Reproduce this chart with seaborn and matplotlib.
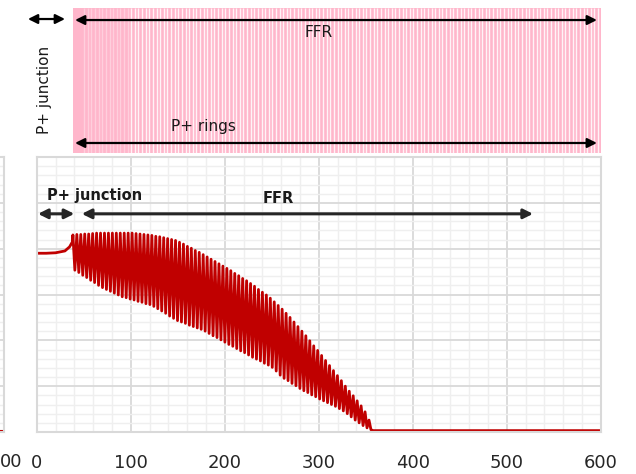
import numpy as np
import pandas as pd
import matplotlib
matplotlib.use("Agg")
import matplotlib.pyplot as plt
import seaborn as sns
from matplotlib.ticker import MultipleLocator

# ---------------- data ----------------
pre_x = [0, 10, 20, 30, 35, 38]
pre_y = [3.90, 3.90, 3.91, 3.95, 4.04, 4.15]

ring_start = 38.5
ring_pitch = 4.2

tooth_top = [4.30, 4.31, 4.31, 4.32, 4.32, 4.33, 4.34, 4.34, 4.34, 4.34,
             4.34, 4.34, 4.34, 4.34, 4.34, 4.34, 4.33, 4.32, 4.31, 4.30,
             4.29, 4.27, 4.26, 4.24, 4.22, 4.20, 4.18, 4.14, 4.10, 4.05,
             4.01, 3.96, 3.92, 3.87, 3.82, 3.77, 3.72, 3.67, 3.62, 3.57,
             3.52, 3.46, 3.41, 3.35, 3.30, 3.24, 3.18, 3.11, 3.05, 2.99,
             2.92, 2.84, 2.76, 2.68, 2.59, 2.50, 2.40, 2.30, 2.20, 2.10,
             1.99, 1.88, 1.78, 1.67, 1.56, 1.45, 1.34, 1.23, 1.12, 1.00,
             0.89, 0.79, 0.68, 0.57, 0.44, 0.26]
tooth_bottom = [3.53, 3.48, 3.42, 3.37, 3.31, 3.26, 3.20, 3.15, 3.11, 3.07,
                3.03, 2.99, 2.95, 2.93, 2.90, 2.88, 2.85, 2.83, 2.80, 2.78,
                2.74, 2.69, 2.64, 2.59, 2.53, 2.48, 2.43, 2.40, 2.37, 2.33,
                2.30, 2.27, 2.24, 2.20, 2.15, 2.10, 2.06, 2.01, 1.96, 1.91,
                1.87, 1.82, 1.77, 1.73, 1.68, 1.63, 1.59, 1.55, 1.50, 1.46,
                1.41, 1.33, 1.24, 1.17, 1.12, 1.06, 1.01, 0.95, 0.90, 0.86,
                0.81, 0.77, 0.72, 0.68, 0.64, 0.60, 0.56, 0.51, 0.46, 0.40,
                0.33, 0.26, 0.20, 0.14, 0.09, 0.05]
tail_x = [358, 600]
tail_y = [0.03, 0.03]

x_ticks = [0, 100, 200, 300, 400, 500, 600]

# build the curve
xs = list(pre_x)
ys = list(pre_y)
for k, (t, b) in enumerate(zip(tooth_top, tooth_bottom)):
    xk = ring_start + k * ring_pitch
    xs += [xk, xk + ring_pitch / 2]
    ys += [t, b]
xs += tail_x
ys += tail_y
df = pd.DataFrame({"x": xs, "y": ys})

# ---------------- style ----------------
sns.set_theme(style="white")
plt.rcParams["font.family"] = ["DejaVu Sans"]

RED = "#C00000"
MAJ = "#d9d9d9"
MIN = "#efefef"

fig = plt.figure(figsize=(6.36, 4.74), dpi=100)

L = 36.7 / 636
W = 564.0 / 636
B = 1 - 432 / 474
H = 275 / 474


def style_grid(ax):
    ax.set_xlim(0, 600)
    ax.set_ylim(0, 6)
    ax.xaxis.set_major_locator(MultipleLocator(100))
    ax.xaxis.set_minor_locator(MultipleLocator(20))
    ax.yaxis.set_major_locator(MultipleLocator(1))
    ax.yaxis.set_minor_locator(MultipleLocator(0.2))
    ax.grid(which="major", color=MAJ, lw=1.3)
    ax.grid(which="minor", color=MIN, lw=1.0)
    ax.set_axisbelow(True)
    for s in ax.spines.values():
        s.set_color(MAJ)
        s.set_linewidth(1.5)
    ax.tick_params(axis="both", which="both", length=0)
    ax.set_yticklabels([])
    ax.set_xlabel("")
    ax.set_ylabel("")


# ---------- partial left panel (right edge of a neighbouring chart) ----------
axl = fig.add_axes([-0.5, B, 0.5 + 3.5 / 636, H])
style_grid(axl)
axl.plot([560, 600], [0.02, 0.02], color=RED, lw=1.5)
axl.set_xticklabels([])
fig.text(0.0, 1 - 462 / 474, "00", ha="left", va="center", fontsize=13,
         color="#262626")

# ---------- main lower panel ----------
ax = fig.add_axes([L, B, W, H])
sns.lineplot(data=df, x="x", y="y", sort=False, estimator=None,
             color=RED, lw=2.0, ax=ax)
style_grid(ax)
ax.set_xticks(x_ticks)
ax.set_xticklabels([str(v) for v in x_ticks], fontsize=13)
ax.tick_params(axis="x", pad=16)

arrow_kw = dict(arrowstyle="<|-|>", color="#262626", lw=2.2,
                mutation_scale=14, shrinkA=0, shrinkB=0)
ax.annotate("", xy=(1.4, 4.76), xytext=(40, 4.76), arrowprops=arrow_kw)
ax.annotate("", xy=(48, 4.76), xytext=(528, 4.76), arrowprops=arrow_kw)
ax.text(62, 5.15, "P+ junction", ha="center", va="center",
        fontsize=10.5, fontweight="bold", color="#1a1a1a")
ax.text(257, 5.1, "FFR", ha="center", va="center",
        fontsize=10.5, fontweight="bold", color="#1a1a1a")

# ---------- top panel ----------
TB = 1 - 153 / 474
TH = 145 / 474
axt = fig.add_axes([L, TB, W, TH])
axt.set_xlim(0, 600)
axt.set_ylim(0, 1)
axt.axis("off")
axt.axvspan(38.6, 600, color="#FFB6CB", lw=0)
stripe_x = np.arange(ring_start + 12, 600, 3.85)
for sx in stripe_x:
    a = 0.85 if sx > 100 else 0.35
    axt.vlines(sx, 0, 1, color="white", lw=1.0, alpha=a)

arrow_t = dict(arrowstyle="<|-|>", color="black", lw=1.6,
               mutation_scale=14, shrinkA=0, shrinkB=0)
axt.annotate("", xy=(40.8, 0.917), xytext=(596, 0.917), arrowprops=arrow_t,
             annotation_clip=False)
axt.annotate("", xy=(40.8, 0.069), xytext=(596, 0.069), arrowprops=arrow_t,
             annotation_clip=False)
axt.annotate("", xy=(-9.3, 0.924), xytext=(30.1, 0.924), arrowprops=arrow_t,
             annotation_clip=False)
axt.text(299.5, 0.83, "FFR", ha="center", va="center", fontsize=11,
         color="#1a1a1a")
axt.text(177, 0.186, "P+ rings", ha="center", va="center", fontsize=11,
         color="#1a1a1a")
axt.text(8.8, 0.434, "P+ junction", ha="center", va="center", fontsize=11,
         rotation=90, color="#1a1a1a")

fig.savefig("out.png", dpi=100)
